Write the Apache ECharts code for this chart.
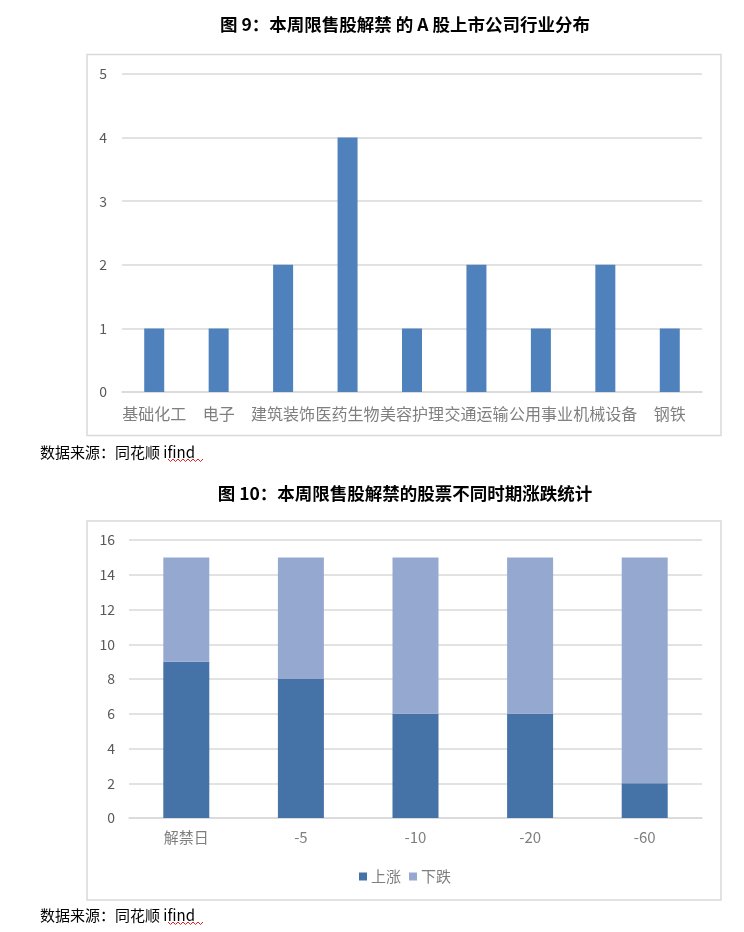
<!DOCTYPE html>
<html>
<head>
<meta charset="utf-8">
<script src="https://cdn.jsdelivr.net/npm/echarts@6/dist/echarts.min.js"></script>
<style>
html,body{margin:0;padding:0;background:#fff;}
#main{width:744px;height:932px;}
</style>
</head>
<body>
<div id="main"></div>
<script>
// Chart 1 data
var industries = ['基础化工','电子','建筑装饰','医药生物','美容护理','交通运输','公用事业','机械设备','钢铁'];
var industryCounts = [1, 1, 2, 4, 1, 2, 1, 2, 1];

// Chart 2 data
var periods = ['解禁日','-5','-10','-20','-60'];
var upCounts = [9, 8, 6, 6, 2];
var downCounts = [6, 7, 9, 9, 13];
var seriesNames = ['上涨','下跌'];

var title1 = '图 9：本周限售股解禁 的 A 股上市公司行业分布';
var title2 = '图 10：本周限售股解禁的股票不同时期涨跌统计';
var sourceText = '数据来源：同花顺 ifind';

var font = '"Noto Sans CJK SC", "Noto Sans", sans-serif';
var gray = '#7f7f7f';
var gridColor = '#d9d9d9';

function wavy(x0, x1, y) {
  var pts = [];
  var up = true;
  for (var x = x0; x <= x1; x += 2.5) {
    pts.push([x, up ? y : y + 2.5]);
    up = !up;
  }
  return pts;
}

var chart = echarts.init(document.getElementById('main'));
chart.setOption({
  animation: false,
  backgroundColor: '#fff',
  textStyle: { fontFamily: font },
  graphic: [
    { type: 'text', x: 405, y: 24, style: { text: title1, font: 'bold 17.5px ' + font, fill: '#000', textAlign: 'center', textVerticalAlign: 'middle' } },
    { type: 'rect', shape: { x: 87, y: 54.5, width: 634, height: 381 }, style: { fill: 'none', stroke: gridColor, lineWidth: 1.5 } },
    { type: 'text', x: 40, y: 452, style: { text: sourceText, font: '15px ' + font, fill: '#000', textVerticalAlign: 'middle' } },
    { type: 'polyline', shape: { points: wavy(168, 203, 459) }, style: { stroke: '#e02020', lineWidth: 1, fill: 'none' } },
    { type: 'text', x: 405, y: 493, style: { text: title2, font: 'bold 17.5px ' + font, fill: '#000', textAlign: 'center', textVerticalAlign: 'middle' } },
    { type: 'rect', shape: { x: 87, y: 521, width: 634, height: 379 }, style: { fill: 'none', stroke: gridColor, lineWidth: 1.5 } },
    { type: 'text', x: 40, y: 915, style: { text: sourceText, font: '15px ' + font, fill: '#000', textVerticalAlign: 'middle' } },
    { type: 'polyline', shape: { points: wavy(168, 203, 922) }, style: { stroke: '#e02020', lineWidth: 1, fill: 'none' } }
  ],
  grid: [
    { left: 122, right: 42, top: 74, bottom: 540, containLabel: false },
    { left: 129, right: 42, top: 540, bottom: 114, containLabel: false }
  ],
  legend: {
    data: seriesNames,
    left: 354,
    top: 864,
    icon: 'rect',
    itemWidth: 8,
    itemHeight: 8,
    itemGap: 8,
    textStyle: { color: gray, fontSize: 15, fontFamily: font, padding: [0, 0, 0, -1] }
  },
  xAxis: [
    {
      type: 'category', gridIndex: 0, data: industries,
      axisLine: { lineStyle: { color: gridColor, width: 1.5 } },
      axisTick: { show: false },
      axisLabel: { interval: 0, color: gray, fontSize: 16, margin: 14, fontFamily: font }
    },
    {
      type: 'category', gridIndex: 1, data: periods,
      axisLine: { lineStyle: { color: gridColor, width: 1.5 } },
      axisTick: { show: false },
      axisLabel: { interval: 0, color: gray, fontSize: 15, margin: 12, fontFamily: font }
    }
  ],
  yAxis: [
    {
      type: 'value', gridIndex: 0, min: 0, max: 5, interval: 1,
      axisLine: { show: false }, axisTick: { show: false },
      splitLine: { lineStyle: { color: gridColor, width: 1.5 } },
      axisLabel: { color: '#595959', fontSize: 14, margin: 15, fontFamily: font }
    },
    {
      type: 'value', gridIndex: 1, min: 0, max: 16, interval: 2,
      axisLine: { show: false }, axisTick: { show: false },
      splitLine: { lineStyle: { color: gridColor, width: 1.5 } },
      axisLabel: { color: '#595959', fontSize: 14, margin: 14, fontFamily: font }
    }
  ],
  series: [
    {
      type: 'bar', xAxisIndex: 0, yAxisIndex: 0, data: industryCounts,
      barWidth: 20, itemStyle: { color: '#4f81bd' }
    },
    {
      name: seriesNames[0], type: 'bar', xAxisIndex: 1, yAxisIndex: 1, stack: 'total', data: upCounts,
      barWidth: 46, itemStyle: { color: '#4572a7' }
    },
    {
      name: seriesNames[1], type: 'bar', xAxisIndex: 1, yAxisIndex: 1, stack: 'total', data: downCounts,
      barWidth: 46, itemStyle: { color: '#95a9d0' }
    }
  ]
});
</script>
</body>
</html>
